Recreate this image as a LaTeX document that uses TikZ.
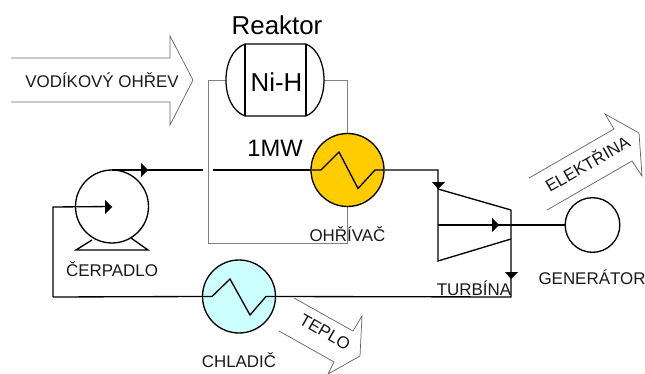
\documentclass[tikz,border=0pt]{standalone}
\usepackage{fontspec}
\setmainfont{Liberation Sans}
\usetikzlibrary{arrows.meta}
\definecolor{heat}{RGB}{255,204,0}
\definecolor{cool}{RGB}{204,255,255}
\tikzset{
  x=0.75pt,y=-0.75pt,
  pipe/.style={draw=black,line width=1pt},
  loop/.style={draw=black!50,line width=0.65pt},
  bigarrow/.style={draw=black!60,line width=0.55pt},
  lbl/.style={inner sep=0pt,text=black!90,font=\fontsize{12.7}{13}\selectfont},
  big/.style={inner sep=0pt,text=black},
  tri/.style={fill=black,draw=none},
  unit/.style={circle,draw=black,line width=1pt,minimum size=54.75pt,inner sep=0pt}
}
\begin{document}
\begin{tikzpicture}
\useasboundingbox (0,0) rectangle (645,374);
% big arrows
\draw[bigarrow] (11,58) -- (170,58) -- (170,36) -- (193,80) -- (170,125) -- (170,102) -- (11,102);
\draw[bigarrow] (529,178) -- (614,129) -- (605,114) -- (639,133) -- (642,176) -- (632,161) -- (547,210);
\draw[bigarrow] (294,298) -- (353,331) -- (362,316) -- (360,356) -- (328,374) -- (334,362) -- (279,331);
% loop
\coordinate (lA) at (226,80);
\coordinate (lB) at (208,80);
\coordinate (lC) at (208,243);
\coordinate (lD) at (347.5,243);
\coordinate (lE) at (347.5,80);
\coordinate (rR) at (324,80);
\node[circle,minimum size=54.75pt,inner sep=0pt] (oh) at (347.5,170) {};
\draw[loop] (lA) -- (lB) -- (lC) -- (lD) -- (oh.south);
\draw[loop] (rR) -- (lE) -- (oh.north);
% reactor
\draw[black,line width=0.95pt] (245,44) .. controls (232,49) and (226,64) .. (226,80) .. controls (226,96) and (232,111) .. (245,116) -- (306,116) .. controls (318,111) and (324,96) .. (324,80) .. controls (324,64) and (318,49) .. (306,44) -- cycle;
\draw[black,line width=0.95pt] (245,44) -- (245,116) (306,44) -- (306,116);
\node[big,font=\fontsize{19.4}{21}\selectfont] (nih) at (276.5,82) {Ni-H};
\node[big,font=\fontsize{19.4}{21}\selectfont] (rk) at (277,25) {Reaktor};
\node[big,font=\fontsize{17.8}{20}\selectfont] (mw) at (275,148) {1MW};
\node[lbl] (vo) at (102,80) {VODÍKOVÝ OHŘEV};
% pump
\node[unit] (pump) at (112,206.5) {};
\draw[black,line width=1pt] (92,240) -- (76,250) -- (148,250) -- (131,238);
% pipes
\coordinate (p1) at (112,170);
\coordinate (g1) at (203,170);
\coordinate (g2) at (213,170);
\draw[pipe] (p1) -- (g1);
\draw[pipe] (g2) -- (312,170);
\draw[tri] (141,163) -- (148,170) -- (141,177) -- cycle;
\draw[pipe] (53,297) -- (53,207) -- (pump.center);
\draw[tri] (105,200) -- (112,207) -- (105,214) -- cycle;
% heater
\node[unit,fill=heat] (ohr) at (347.5,170) {};
\draw[pipe] (312,170) -- (321,170) -- (339,152) -- (358,188.5) -- (375,170) -- (384,170);
\node[lbl] (ol) at (347.5,234) {OHŘÍVAČ};
% cooler
\coordinate (pl) at (53,297);
\node[unit,fill=cool] (chl) at (239,296.5) {};
\draw[pipe] (pl) -- (chl.west);
\draw[pipe] (203,296.5) -- (212,296.5) -- (230,279) -- (250,315) -- (266,296.5) -- (276,296.5);
\draw[pipe] (chl.east) -- (511,297) -- (511,210);
\node[lbl] (cl) at (239,360) {CHLADIČ};
\node[lbl] (cp) at (112,269) {ČERPADLO};
% turbine
\draw[pipe] (ohr.east) -- (438,170) -- (438,261) -- (511,239);
\draw[pipe] (438,189) -- (511,210);
\draw[tri] (432,182) -- (445,182) -- (438,189) -- cycle;
\node[circle,draw=black,line width=1pt,minimum size=41pt,inner sep=0pt] (gen) at (592.5,225) {};
\draw[pipe] (438,225) -- (gen.west);
\draw[tri] (492,218) -- (499,225) -- (492,232) -- cycle;
\draw[tri] (505,272) -- (518,272) -- (511,279) -- cycle;
\node[lbl] (tu) at (474,288) {TURBÍNA};
\node[lbl] (ge) at (592,277) {GENERÁTOR};
\node[lbl,rotate=30] (el) at (587,163) {ELEKTŘINA};
\node[lbl,rotate=-30] (te) at (325,332) {TEPLO};
\end{tikzpicture}
\end{document}
